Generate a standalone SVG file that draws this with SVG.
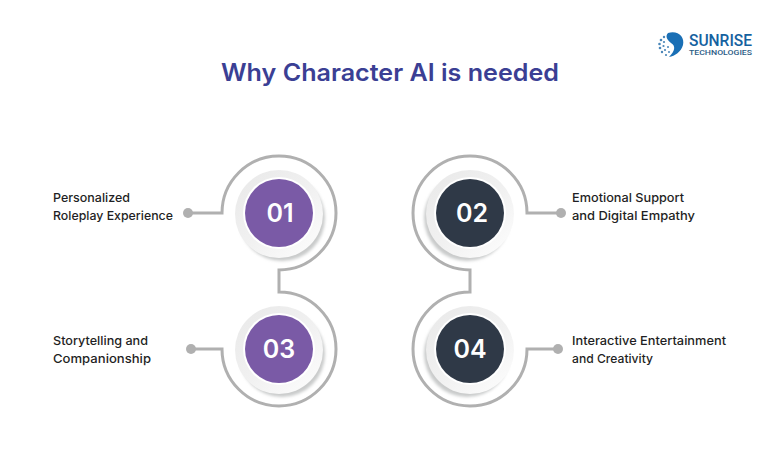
<svg xmlns="http://www.w3.org/2000/svg" width="780" height="469" viewBox="0 0 780 469">
<style>
.t{font-family:"Inter","Noto Sans","Liberation Sans",sans-serif;font-weight:500;font-size:12.2px;fill:#1f1f24}
.n{font-family:"Inter","Noto Sans","Liberation Sans",sans-serif;font-weight:600;font-size:25px;fill:#fff;text-anchor:middle}
.c{fill:none;stroke:#b0b0b0;stroke-width:3}
.d{fill:#b0b0b0}
.r{fill:url(#rg)}
.s{fill:#c9cbcb;filter:url(#bl)}
</style>
<defs>
<filter id="bl" x="-20%" y="-20%" width="140%" height="140%"><feGaussianBlur stdDeviation="1.5"/></filter>
<linearGradient id="rg" x1="0.15" y1="0.15" x2="0.8" y2="0.9"><stop offset="0" stop-color="#ebebeb"/><stop offset="0.55" stop-color="#f1f1f1"/><stop offset="1" stop-color="#fafafa"/></linearGradient>
</defs>
<rect width="780" height="469" fill="#fff"/>
<text x="221" y="81" font-family="Inter,'Noto Sans','Liberation Sans',sans-serif" font-weight="600" font-size="24" fill="#3b3f94" textLength="338" lengthAdjust="spacingAndGlyphs">Why Character AI is needed</text>
<g id="logo">
<path d="M668 33C678 30 685 37 683 45C681 52 675 56 669 57C675 51 676 46 671 43C667 40 665 36 668 33Z" fill="#1a6fb5"/>
<g fill="#4a86b8"><circle cx="661" cy="40" r="1.3"/><circle cx="659.500" cy="44" r="1.3"/><circle cx="660" cy="48" r="1.3"/><circle cx="662" cy="52" r="1.2"/><circle cx="666" cy="55" r="1.1"/><circle cx="664" cy="37" r="1.2"/><circle cx="664" cy="42" r="1.1"/><circle cx="663.500" cy="46" r="1.1"/><circle cx="665" cy="50" r="1.1"/><circle cx="669" cy="52" r="1"/><circle cx="668" cy="47" r="1"/></g>
<text x="689" y="46" font-family="Roboto,'Liberation Sans',sans-serif" font-weight="500" font-size="16.500" fill="#15619f" textLength="63" lengthAdjust="spacingAndGlyphs">SUNRISE</text>
<text x="689" y="54.500" font-family="Roboto,'Liberation Sans',sans-serif" font-weight="500" font-size="7.500" fill="#2c5d86" textLength="63" lengthAdjust="spacingAndGlyphs">TECHNOLOGIES</text>
</g>
<g id="connectors">
<path class="c" d="M188 213H222A57 57 0 1 1 279 270V292A57 57 0 1 1 222 349H191"/>
<path class="c" d="M561 213H527A57 57 0 1 0 470 270V292A57 57 0 1 0 527 349H558"/>
<circle class="d" cx="188" cy="213" r="5"/><circle class="d" cx="191" cy="349" r="5"/>
<circle class="d" cx="561" cy="213" r="5"/><circle class="d" cx="558" cy="349" r="5"/>
</g>
<g id="node1"><circle class="s" cx="282" cy="218" r="43"/><circle class="r" cx="279" cy="214" r="44"/><circle cx="279" cy="213" r="36" fill="#fff"/><circle cx="279" cy="213" r="34" fill="#7a5aa6"/><text class="n" x="280" y="222">01</text></g>
<g id="node2"><circle class="s" cx="467" cy="218" r="43"/><circle class="r" cx="470" cy="214" r="44"/><circle cx="470" cy="213" r="36" fill="#fff"/><circle cx="470" cy="213" r="34" fill="#2f3947"/><text class="n" x="472" y="222">02</text></g>
<g id="node3"><circle class="s" cx="282" cy="354" r="43"/><circle class="r" cx="279" cy="350" r="44"/><circle cx="279" cy="349" r="36" fill="#fff"/><circle cx="279" cy="349" r="34" fill="#7a5aa6"/><text class="n" x="279" y="358">03</text></g>
<g id="node4"><circle class="s" cx="467" cy="354" r="43"/><circle class="r" cx="470" cy="350" r="44"/><circle cx="470" cy="349" r="36" fill="#fff"/><circle cx="470" cy="349" r="34" fill="#2f3947"/><text class="n" x="470" y="358">04</text></g>
<g id="label1"><text class="t" x="53" y="202" textLength="77" lengthAdjust="spacingAndGlyphs">Personalized</text><text class="t" x="53" y="220" textLength="120" lengthAdjust="spacingAndGlyphs">Roleplay Experience</text></g>
<g id="label2"><text class="t" x="572" y="202" textLength="112" lengthAdjust="spacingAndGlyphs">Emotional Support</text><text class="t" x="572" y="220" textLength="123" lengthAdjust="spacingAndGlyphs">and Digital Empathy</text></g>
<g id="label3"><text class="t" x="53" y="345" textLength="95" lengthAdjust="spacingAndGlyphs">Storytelling and</text><text class="t" x="53" y="363" textLength="98" lengthAdjust="spacingAndGlyphs">Companionship</text></g>
<g id="label4"><text class="t" x="572" y="345" textLength="154" lengthAdjust="spacingAndGlyphs">Interactive Entertainment</text><text class="t" x="572" y="363" textLength="81" lengthAdjust="spacingAndGlyphs">and Creativity</text></g>
</svg>
